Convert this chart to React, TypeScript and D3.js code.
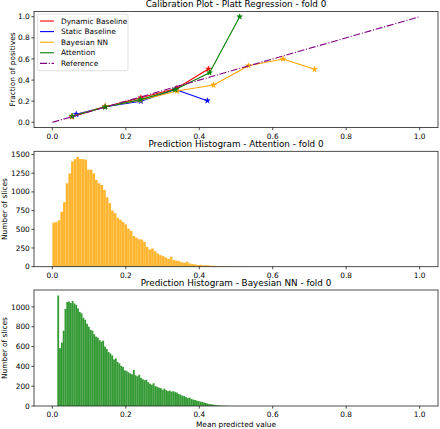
import React from 'react';
import * as d3 from 'd3';

// ---------- data ----------
const xTicks = [0, 0.2, 0.4, 0.6, 0.8, 1.0];
const calibYTicks = [0, 0.2, 0.4, 0.6, 0.8, 1.0];
const attnYTicks = [0, 250, 500, 750, 1000, 1250, 1500];
const bnnYTicks = [0, 200, 400, 600, 800, 1000];

const seriesNames = ['Dynamic Baseline', 'Static Baseline', 'Bayesian NN', 'Attention', 'Reference'];
const seriesColors = ['#ff0000', '#0000ff', '#ffa500', '#008000', '#800080'];

const dynamicX = [0.053, 0.144, 0.241, 0.339, 0.425];
const dynamicY = [0.053, 0.148, 0.233, 0.322, 0.505];
const staticX = [0.065, 0.144, 0.241, 0.335, 0.422];
const staticY = [0.076, 0.148, 0.2, 0.31, 0.205];
const bayesX = [0.053, 0.144, 0.24, 0.339, 0.439, 0.534, 0.628, 0.714];
const bayesY = [0.058, 0.15, 0.21, 0.296, 0.353, 0.536, 0.6, 0.502];
const attnX = [0.054, 0.144, 0.24, 0.335, 0.428, 0.51];
const attnY = [0.058, 0.145, 0.215, 0.31, 0.47, 1.0];
const refX = [0, 1];
const refY = [0, 1];

// histogram: Attention (orange), 100 bins
const attnBinStart = 0.0;
const attnBinWidth = 0.00727;
const attnCounts = [
  590, 595, 620, 735, 863, 1115, 1248, 1407, 1438, 1469,
  1438, 1438, 1430, 1297, 1297, 1248, 1160, 1115, 1093, 1027,
  929, 850, 752, 717, 655, 628, 597, 566, 509, 478,
  411, 389, 367, 363, 332, 265, 230, 243, 208, 177,
  155, 142, 124, 102, 133, 88, 80, 75, 58, 53,
  66, 44, 35, 31, 22, 26, 18, 22, 18, 13,
  13, 9, 8, 7, 5, 6, 4, 3, 3, 2,
  2, 1, 2, 1, 1, 0, 1, 0, 1, 0,
  0, 1, 0, 0, 0, 0, 0, 0, 0, 0,
  0, 0, 0, 0, 0, 0, 0, 0, 0, 1,
];

// histogram: Bayesian NN (green), 100 bins
const bnnBinStart = 0.0135;
const bnnBinWidth = 0.0049;
const bnnCounts = [
  1115, 584, 640, 760, 980, 1050, 1055, 1040, 1060, 1035,
  1020, 985, 950, 935, 890, 870, 830, 800, 770, 760,
  725, 700, 690, 665, 650, 660, 600, 575, 545, 530,
  510, 470, 480, 445, 430, 405, 395, 360, 355, 340,
  330, 320, 365, 310, 300, 315, 285, 270, 260, 265,
  240, 225, 215, 230, 200, 195, 185, 180, 165, 175,
  160, 150, 155, 145, 150, 140, 135, 120, 115, 105,
  100, 90, 80, 85, 70, 65, 60, 55, 50, 45,
  42, 35, 30, 25, 20, 18, 14, 12, 9, 7,
  5, 4, 3, 2, 2, 1, 1, 1, 0, 1,
];

// ---------- layout ----------
const W = 440;
const H = 429;
const AX_L = 34;
const AX_R = 438;
const FONT = 'DejaVu Sans, sans-serif';
const TICK_FS = 7.4;
const TITLE_FS = 8.8;
const LW = 1.1;

const xScale = d3.scaleLinear().domain([-0.05, 1.05]).range([AX_L, AX_R]);

function Frame({ top, bottom, yScale, yTicks, yFmt, title, ylabel, ylabelX }: any) {
  return (
    <g>
      <rect x={AX_L} y={top} width={AX_R - AX_L} height={bottom - top} fill="none" stroke="#222" strokeWidth={0.8} />
      {xTicks.map((t) => (
        <g key={'x' + t}>
          <line x1={xScale(t)} x2={xScale(t)} y1={bottom} y2={bottom + 2.6} stroke="#000" strokeWidth={0.7} />
          <text x={xScale(t)} y={bottom + 11.2} fontSize={TICK_FS} textAnchor="middle" fontFamily={FONT}>
            {d3.format('.1f')(t)}
          </text>
        </g>
      ))}
      {yTicks.map((t: number) => (
        <g key={'y' + t}>
          <line x1={AX_L - 2.6} x2={AX_L} y1={yScale(t)} y2={yScale(t)} stroke="#000" strokeWidth={0.7} />
          <text x={AX_L - 4.2} y={yScale(t) + 2.6} fontSize={TICK_FS} textAnchor="end" fontFamily={FONT}>
            {yFmt(t)}
          </text>
        </g>
      ))}
      <text x={(AX_L + AX_R) / 2} y={top - 4.4} fontSize={TITLE_FS} textAnchor="middle" fontFamily={FONT}>
        {title}
      </text>
      <text
        transform={`translate(${ylabelX},${(top + bottom) / 2}) rotate(-90)`}
        fontSize={TICK_FS}
        textAnchor="middle"
        fontFamily={FONT}
      >
        {ylabel}
      </text>
    </g>
  );
}

function Hist({ counts, start, width, yScale, color, bottom }: any) {
  return (
    <g>
      {counts.map((c: number, i: number) =>
        c > 0 ? (
          <rect
            key={i}
            x={xScale(start + i * width)}
            width={xScale(start + (i + 1) * width) - xScale(start + i * width)}
            y={yScale(c)}
            height={bottom - yScale(c)}
            fill={color}
            fillOpacity={0.8}
          />
        ) : null
      )}
    </g>
  );
}

export default function App() {
  const cTop = 11.4, cBot = 127.6;
  const aTop = 151.3, aBot = 266.7;
  const bTop = 290, bBot = 406;

  const yCal = d3.scaleLinear().domain([-0.05, 1.05]).range([cBot, cTop]);
  const yAttn = d3.scaleLinear().domain([0, (d3.max(attnCounts) as number) * 1.05]).range([aBot, aTop]);
  const yBnn = d3.scaleLinear().domain([0, (d3.max(bnnCounts) as number) * 1.05]).range([bBot, bTop]);

  const series = [
    { xs: dynamicX, ys: dynamicY, marker: true },
    { xs: staticX, ys: staticY, marker: true },
    { xs: bayesX, ys: bayesY, marker: true },
    { xs: attnX, ys: attnY, marker: true },
    { xs: refX, ys: refY, marker: false },
  ];

  const line = d3
    .line<[number, number]>()
    .x((d) => xScale(d[0]))
    .y((d) => yCal(d[1]));
  const star = d3.symbol().type(d3.symbolStar).size(10)() as string;

  const legX = 37.7, legY = 14, legW = 90.3, legH = 56.7;
  const rowY = [21, 31.6, 42.2, 52.8, 63.4];

  return (
    <svg
      width={W}
      height={H}
      viewBox={`0 0 ${W} ${H}`}
      style={{ position: 'absolute', left: 0, top: 0, display: 'block', background: '#fff' }}
    >
      <rect x={0} y={0} width={W} height={H} fill="#fff" />
      {/* Calibration plot */}
      <defs>
        <clipPath id="clipCal">
          <rect x={AX_L} y={cTop} width={AX_R - AX_L} height={cBot - cTop} />
        </clipPath>
      </defs>
      <g clipPath="url(#clipCal)">
        {series.map((s, si) => {
          const pts = s.xs.map((x, i) => [x, s.ys[i]] as [number, number]);
          return (
            <g key={si}>
              <path
                d={line(pts) as string}
                fill="none"
                stroke={seriesColors[si]}
                strokeWidth={LW}
                strokeDasharray={si === 4 ? '7,1.75,1.1,1.75' : undefined}
                strokeLinejoin="round"
              />
              {s.marker &&
                pts.map((p, i) => (
                  <path
                    key={i}
                    d={star}
                    transform={`translate(${xScale(p[0])},${yCal(p[1])})`}
                    fill={seriesColors[si]}
                    stroke={seriesColors[si]}
                    strokeWidth={0.5}
                  />
                ))}
            </g>
          );
        })}
      </g>
      <Frame
        top={cTop}
        bottom={cBot}
        yScale={yCal}
        yTicks={calibYTicks}
        yFmt={d3.format('.1f')}
        title="Calibration Plot - Platt Regression - fold 0"
        ylabel="Fraction of positives"
        ylabelX={14.5}
      />
      {/* legend */}
      <rect x={legX} y={legY} width={legW} height={legH} rx={1.5} fill="#fff" fillOpacity={0.8} stroke="#cccccc" strokeWidth={0.6} />
      {seriesNames.map((n, i) => (
        <g key={n}>
          <line
            x1={40}
            x2={54}
            y1={rowY[i]}
            y2={rowY[i]}
            stroke={seriesColors[i]}
            strokeWidth={LW}
            strokeDasharray={i === 4 ? '7,1.75,1.1,1.75' : undefined}
          />
          <text x={61} y={rowY[i] + 2.6} fontSize={TICK_FS} fontFamily={FONT}>
            {n}
          </text>
        </g>
      ))}

      {/* Attention histogram */}
      <Hist counts={attnCounts} start={attnBinStart} width={attnBinWidth} yScale={yAttn} color="#ffa500" bottom={aBot} />
      <Frame
        top={aTop}
        bottom={aBot}
        yScale={yAttn}
        yTicks={attnYTicks}
        yFmt={d3.format('d')}
        title="Prediction Histogram - Attention - fold 0"
        ylabel="Number of slices"
        ylabelX={7}
      />

      {/* Bayesian NN histogram */}
      <Hist counts={bnnCounts} start={bnnBinStart} width={bnnBinWidth} yScale={yBnn} color="#008000" bottom={bBot} />
      <Frame
        top={bTop}
        bottom={bBot}
        yScale={yBnn}
        yTicks={bnnYTicks}
        yFmt={d3.format('d')}
        title="Prediction Histogram - Bayesian NN - fold 0"
        ylabel="Number of slices"
        ylabelX={7}
      />
      <text x={(AX_L + AX_R) / 2} y={426.5} fontSize={TICK_FS} textAnchor="middle" fontFamily={FONT}>
        Mean predicted value
      </text>
    </svg>
  );
}
